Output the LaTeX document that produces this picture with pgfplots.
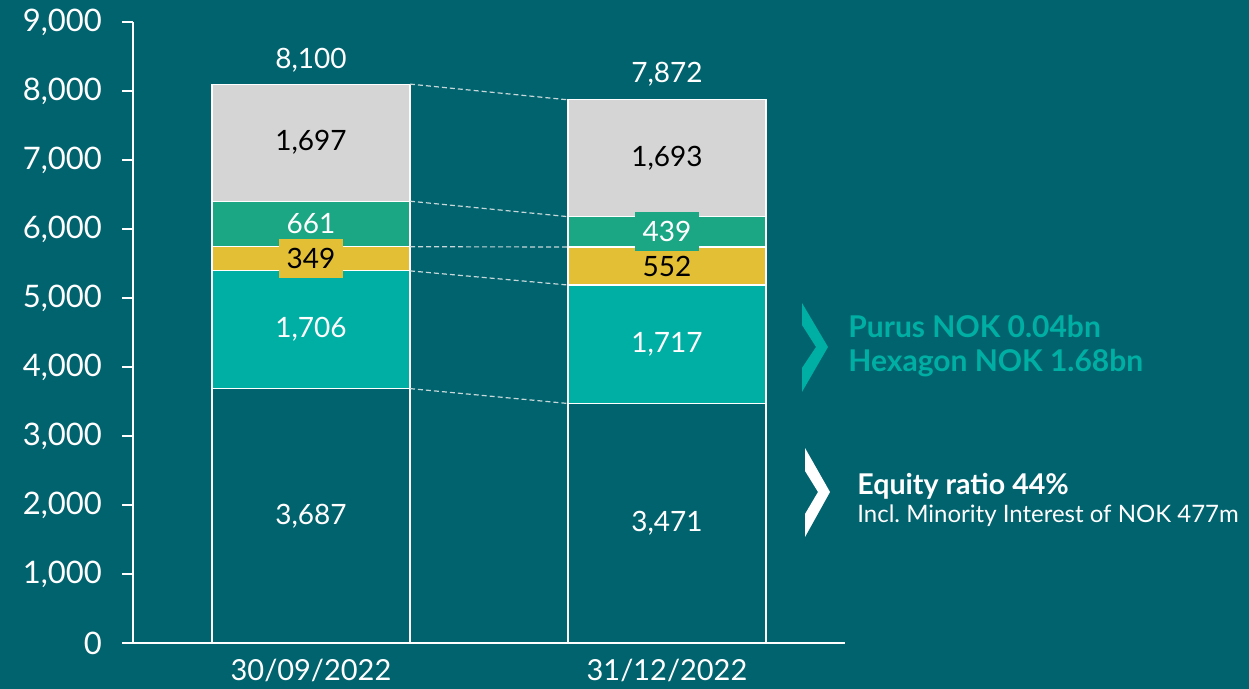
\documentclass[border=0pt]{standalone}
\usepackage{pgfplots}
\pgfplotsset{compat=1.18}
\usepackage{fontspec}
\setmainfont{Lato}
\definecolor{bg}{HTML}{00636E}
\definecolor{tealbar}{HTML}{00AFA3}
\definecolor{greenbar}{HTML}{1BA784}
\definecolor{yellowbar}{HTML}{E3BF35}
\definecolor{graybar}{HTML}{D5D5D5}
\definecolor{dashc}{HTML}{C8D8DA}
\begin{document}
\frenchspacing
\begin{tikzpicture}
\begin{scope}[shift={(-66.5pt,321.5pt)},x=0.5pt,y=-0.5pt]
\fill[bg] (0,0) rectangle (1249,689);
\end{scope}
\pgfplotsset{
  common/.style={
    scale only axis, width=356pt, height=310.5pt,
    at={(0pt,0pt)}, anchor=south west,
    xmin=-0.5, xmax=1.5, ymin=0, ymax=9000,
    /pgf/number format/.cd, 1000 sep={,}, assume math mode=true, /pgfplots/.cd,
  },
  lbl/.style={draw=none, mark=none, nodes near coords, point meta=explicit,
    every node near coord/.append style={anchor=center, font=\fontsize{14}{14}\selectfont}},
}
\begin{axis}[common, ybar stacked, bar width=99pt,
  axis x line*=bottom, axis y line*=left,
  axis line style={white, line width=1pt},
  xtick={0,1}, xticklabels={30/09/2022,31/12/2022},
  xtick style={draw=none},
  ytick={0,1000,...,9000},
  ytick style={white, line width=1pt},
  tick align=outside, major tick length=5.5pt,
  yticklabel style={white, font=\fontsize{15.5}{15.5}\selectfont, xshift=-6.5pt},
  xticklabel style={white, font=\fontsize{14.5}{14.5}\selectfont, yshift=1pt},
]
\addplot[fill=bg, draw=white, line width=0.6pt] coordinates {(0,3687) (1,3471)};
\addplot[fill=tealbar, draw=white, line width=0.6pt] coordinates {(0,1706) (1,1717)};
\addplot[fill=yellowbar, draw=white, line width=0.6pt] coordinates {(0,349) (1,552)};
\addplot[fill=greenbar, draw=white, line width=0.6pt] coordinates {(0,661) (1,439)};
\addplot[fill=graybar, draw=white, line width=0.6pt] coordinates {(0,1697) (1,1693)};
\end{axis}
\begin{axis}[common, hide axis]
\addplot[dashc, dash pattern=on 2.5pt off 1.5pt, line width=0.6pt] coordinates {(0.2781,8100) (0.7219,7872)};
\addplot[dashc, dash pattern=on 2.5pt off 1.5pt, line width=0.6pt] coordinates {(0.2781,6403) (0.7219,6179)};
\addplot[dashc, dash pattern=on 2.5pt off 1.5pt, line width=0.6pt] coordinates {(0.2781,5742) (0.7219,5740)};
\addplot[dashc, dash pattern=on 2.5pt off 1.5pt, line width=0.6pt] coordinates {(0.2781,5393) (0.7219,5188)};
\addplot[dashc, dash pattern=on 2.5pt off 1.5pt, line width=0.6pt] coordinates {(0.2781,3687) (0.7219,3471)};
% white labels
\addplot[lbl, every node near coord/.append style={text=white}] coordinates {
 (0,1843.5) [3687] (1,1735.5) [3471] (0,4540) [1706] (1,4329.5) [1717]
 (0,6072.5) [661] (0,8449) [8100] (1,8246) [7872]};
% black labels
\addplot[lbl, every node near coord/.append style={text=black}] coordinates {
 (0,7251.5) [1697] (1,7025.5) [1693] (1,5464) [552]};
% boxed labels
\addplot[lbl, every node near coord/.append style={text=black, fill=yellowbar, inner xsep=4pt, minimum height=19.5pt}] coordinates {
 (0,5567.5) [349]};
\addplot[lbl, every node near coord/.append style={text=white, fill=greenbar, inner xsep=4pt, minimum height=19.5pt}] coordinates {
 (1,5959.5) [439]};
\end{axis}
\begin{scope}[shift={(-66.5pt,321.5pt)},x=0.5pt,y=-0.5pt]
\fill[tealbar] (802,303) -- (828,347) -- (802,392) -- (802,368) -- (816,347) -- (802,325) -- cycle;
\fill[white] (805,448) -- (830,492) -- (805,537) -- (805,514) -- (818,492) -- (805,471) -- cycle;
\node[anchor=base west, inner sep=0pt, text=tealbar, font=\fontsize{15}{15}\selectfont\bfseries] at (848,338) {Purus NOK 0.04bn};
\node[anchor=base west, inner sep=0pt, text=tealbar, font=\fontsize{15}{15}\selectfont\bfseries] at (848,372) {Hexagon NOK 1.68bn};
\node[anchor=base west, inner sep=0pt, text=white, font=\fontsize{14.3}{14.3}\selectfont\bfseries] at (857,495) {Equity ratio 44\%};
\node[anchor=base west, inner sep=0pt, text=white, font=\fontsize{12}{12}\selectfont] at (857,523) {Incl. Minority Interest of NOK 477m};
\end{scope}
\end{tikzpicture}
\end{document}
